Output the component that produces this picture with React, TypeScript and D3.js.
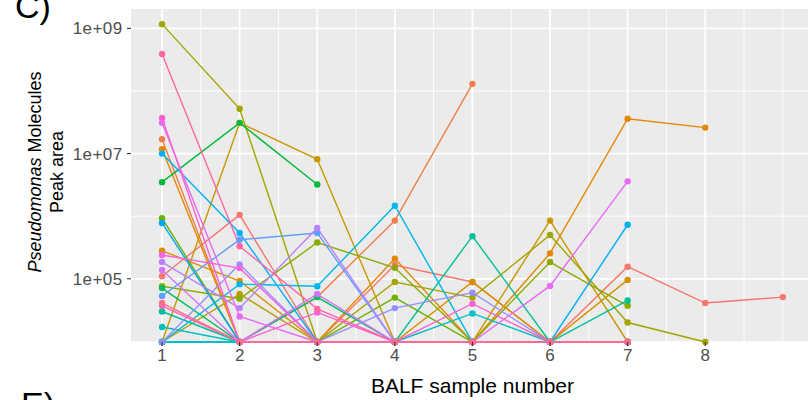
import React, { useEffect, useRef } from "react";
import * as d3 from "d3";

// BALF sample numbers (x) and axis breaks
const samples = [1, 2, 3, 4, 5, 6, 7, 8, 9];
const xBreaks = [1, 2, 3, 4, 5, 6, 7, 8];
const xMinor = [1.5, 2.5, 3.5, 4.5, 5.5, 6.5, 7.5, 8.5, 9];
const yBreaks = [1e5, 1e7, 1e9];
const yMinor = [1e4, 1e6, 1e8];
const yLabels = ["1e+05", "1e+07", "1e+09"];

// molecules in factor-level order (colour comes from the level)
const molecules = [
  "M01", "M02", "M03", "M04", "M05", "M06", "M07", "M08", "M09", "M10",
  "M11", "M12", "M13", "M14", "M15", "M16", "M17", "M18", "M19", "M20",
  "M21", "M22", "M23", "M24", "M25", "M26", "M27", "M28", "M29", "M30",
];

// peak area per sample, 0 = not detected (drawn on the panel floor)
const peakAreas: number[][] = [
  [1.1e5, 1.05e6, 0, 1.66e5, 8.9e4, 0, 1.56e5, 4.1e4, 5.1e4],
  [1.7e7, 0, 5.1e4, 8.5e5, 1.3e8],
  [1.18e7, 0, 0, 2.1e5, 0, 2.55e5, 3.6e7, 2.6e7],
  [2.8e5, 9.2e4, 0, 0, 8.9e4, 0, 9.6e4],
  [0, 3.1e7, 8.1e6, 0, 0, 8.5e5, 0],
  [0, 5.7e4, 0, 0, 0, 0, 0],
  [1.17e9, 5.2e7, 0, 8.9e4, 5.0e4, 5.0e5, 2.0e4, 0],
  [7.6e4, 4.8e4, 3.8e5, 1.5e5, 0, 1.85e5, 3.7e4],
  [9.3e5, 0, 0, 5.0e4, 0, 0, 0],
  [0, 0, 0, 0, 0, 0, 0],
  [3.5e6, 3.1e7, 3.2e6],
  [7.1e4, 0, 5.1e4, 0, 0, 0, 0],
  [0, 0, 0, 0, 0, 0, 0],
  [3.0e4, 0, 0, 0, 4.8e5, 0, 4.5e4],
  [0, 0, 0, 0, 0, 0, 0],
  [1.7e4, 0, 0, 0, 2.8e4, 0, 0],
  [0, 0, 0, 0, 0, 0, 0],
  [0, 8.2e4, 7.6e4, 1.47e6, 0, 0, 0],
  [1.0e7, 5.4e5, 0, 0, 0, 0, 7.3e5],
  [7.8e5, 0, 0, 0, 0, 0, 0],
  [5.3e4, 4.2e5, 5.4e5, 0, 0, 0, 0],
  [0, 1.7e5, 0, 3.4e4, 6.0e4, 0, 0],
  [1.85e5, 3.4e4, 6.5e5, 0, 0, 0, 0],
  [1.38e5, 0, 5.7e4, 0, 0, 0, 0],
  [3.1e7, 2.5e4, 0, 0, 0, 7.7e4, 3.6e6],
  [2.4e5, 1.48e5, 0, 0, 0, 0, 0],
  [3.7e7, 0, 2.9e4, 0, 4.0e4, 0, 0],
  [3.7e4, 0, 0, 0, 0, 0, 0],
  [3.9e8, 3.3e5, 3.3e4, 0, 0, 0, 0],
  [4.1e4, 0, 0, 0, 0, 0, 0],
];

// ggplot-like hue palette (polar LUV -> sRGB)
function hueColor(h: number, c = 100, l = 65) {
  const hr = (h * Math.PI) / 180;
  const U = c * Math.cos(hr),
    V = c * Math.sin(hr);
  const Xn = 95.047,
    Yn = 100,
    Zn = 108.883;
  const den = Xn + 15 * Yn + 3 * Zn;
  const un = (4 * Xn) / den,
    vn = (9 * Yn) / den;
  const Y = Yn * (l > 8 ? Math.pow((l + 16) / 116, 3) : l / 903.3);
  const u = U / (13 * l) + un,
    v = V / (13 * l) + vn;
  const X = (9 * Y * u) / (4 * v);
  const Z = -X / 3 - 5 * Y + (3 * Y) / v;
  const lin = [
    3.240479 * X - 1.53715 * Y - 0.498535 * Z,
    -0.969256 * X + 1.875992 * Y + 0.041556 * Z,
    0.055648 * X - 0.204043 * Y + 1.057311 * Z,
  ].map((t) => t / 100);
  const gam = (t: number) =>
    t <= 0.0031308 ? 12.92 * t : 1.055 * Math.pow(t, 1 / 2.4) - 0.055;
  const [r, g, b] = lin.map((t) =>
    Math.max(0, Math.min(255, Math.round(255 * gam(t))))
  );
  return d3.rgb(r, g, b).formatHex();
}

export default function App() {
  const svgRef = useRef<SVGSVGElement>(null);

  useEffect(() => {
    if (!svgRef.current) return;
    const svg = d3.select(svgRef.current);
    svg.selectAll("*").remove();

    const font = "'Liberation Sans', Arial, Helvetica, sans-serif";
    const panel = { left: 131, right: 808, top: 9, bottom: 342 };

    const x = d3.scaleLinear().domain([0.6, 9.4]).range([131, 131 + 8.8 * 77.6]);
    const y = d3
      .scaleLog()
      .domain([Math.pow(10, 3.99), Math.pow(10, 9.31)])
      .range([panel.bottom, panel.top]);
    const yv = (v: number) => (v > 0 ? y(v) : panel.bottom);

    const n = molecules.length;
    const color = (i: number) => hueColor(15 + (360 * i) / n);

    // panel background
    svg
      .append("rect")
      .attr("x", panel.left)
      .attr("y", panel.top)
      .attr("width", panel.right - panel.left)
      .attr("height", panel.bottom - panel.top)
      .attr("fill", "#EBEBEB");

    const grid = svg.append("g");
    grid
      .selectAll("line.ymin")
      .data(yMinor)
      .enter()
      .append("line")
      .attr("x1", panel.left)
      .attr("x2", panel.right)
      .attr("y1", (d) => y(d))
      .attr("y2", (d) => y(d))
      .attr("stroke", "white")
      .attr("stroke-width", 0.9);
    grid
      .selectAll("line.xmin")
      .data(xMinor)
      .enter()
      .append("line")
      .attr("x1", (d) => x(d))
      .attr("x2", (d) => x(d))
      .attr("y1", panel.top)
      .attr("y2", panel.bottom)
      .attr("stroke", "white")
      .attr("stroke-width", 0.9);
    grid
      .selectAll("line.ymaj")
      .data(yBreaks)
      .enter()
      .append("line")
      .attr("x1", panel.left)
      .attr("x2", panel.right)
      .attr("y1", (d) => y(d))
      .attr("y2", (d) => y(d))
      .attr("stroke", "white")
      .attr("stroke-width", 1.8);
    grid
      .selectAll("line.xmaj")
      .data(xBreaks)
      .enter()
      .append("line")
      .attr("x1", (d) => x(d))
      .attr("x2", (d) => x(d))
      .attr("y1", panel.top)
      .attr("y2", panel.bottom)
      .attr("stroke", "white")
      .attr("stroke-width", 1.8);

    const series = molecules.map((m, i) => ({
      name: m,
      color: color(i),
      pts: peakAreas[i].map((v, j) => ({ s: samples[j], v })),
    }));

    const line = d3
      .line<{ s: number; v: number }>()
      .x((d) => x(d.s))
      .y((d) => yv(d.v));

    svg
      .append("g")
      .selectAll("path")
      .data(series)
      .enter()
      .append("path")
      .attr("d", (d) => line(d.pts))
      .attr("fill", "none")
      .attr("stroke", (d) => d.color)
      .attr("stroke-width", 1.4);

    const dots = svg.append("g");
    series.forEach((sr) => {
      dots
        .selectAll(null)
        .data(sr.pts)
        .enter()
        .append("circle")
        .attr("cx", (d) => x(d.s))
        .attr("cy", (d) => yv(d.v))
        .attr("r", 3.2)
        .attr("fill", sr.color);
    });

    // axes
    const axis = svg.append("g").attr("font-family", font);
    yBreaks.forEach((b, i) => {
      axis
        .append("line")
        .attr("x1", panel.left - 4)
        .attr("x2", panel.left)
        .attr("y1", y(b))
        .attr("y2", y(b))
        .attr("stroke", "#333333")
        .attr("stroke-width", 1.1);
      axis
        .append("text")
        .attr("x", 122.5)
        .attr("y", y(b) + 6)
        .attr("text-anchor", "end")
        .attr("font-size", 17)
        .attr("letter-spacing", 0.4)
        .attr("fill", "#4D4D4D")
        .text(yLabels[i]);
    });
    xBreaks.forEach((b) => {
      axis
        .append("line")
        .attr("x1", x(b))
        .attr("x2", x(b))
        .attr("y1", panel.bottom)
        .attr("y2", panel.bottom + 4)
        .attr("stroke", "#333333")
        .attr("stroke-width", 1.1);
      axis
        .append("text")
        .attr("x", x(b))
        .attr("y", 361)
        .attr("text-anchor", "middle")
        .attr("font-size", 17)
        .attr("fill", "#4D4D4D")
        .text(String(b));
    });

    axis
      .append("text")
      .attr("x", (panel.left + x(9.4)) / 2)
      .attr("y", 393)
      .attr("text-anchor", "middle")
      .attr("font-size", 21)
      .attr("fill", "black")
      .text("BALF sample number");

    const yt = axis
      .append("text")
      .attr("transform", "translate(41,172) rotate(-90)")
      .attr("text-anchor", "middle")
      .attr("font-size", 18)
      .attr("fill", "black");
    yt.append("tspan").attr("font-style", "italic").text("Pseudomonas");
    yt.append("tspan").text(" Molecules");
    axis
      .append("text")
      .attr("transform", "translate(63,172) rotate(-90)")
      .attr("text-anchor", "middle")
      .attr("font-size", 18)
      .attr("fill", "black")
      .text("Peak area");

    // panel letters
    axis
      .append("text")
      .attr("x", 15)
      .attr("y", 18)
      .attr("font-size", 34)
      .attr("fill", "black")
      .text("C)");
    axis
      .append("text")
      .attr("x", 21)
      .attr("y", 416)
      .attr("font-size", 34)
      .attr("fill", "black")
      .text("E)");
  }, []);

  return (
    <svg
      ref={svgRef}
      width={808}
      height={400}
      style={{ position: "absolute", left: 0, top: 0, background: "white" }}
    ></svg>
  );
}
